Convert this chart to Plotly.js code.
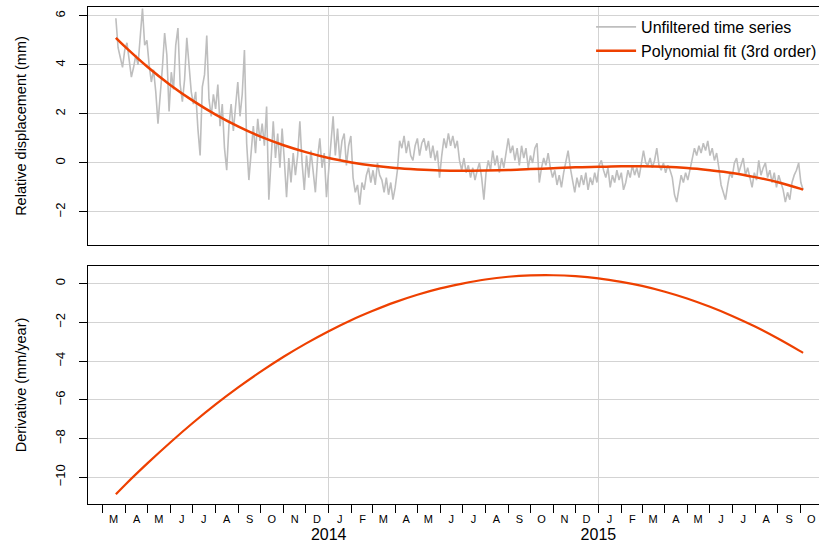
<!DOCTYPE html>
<html>
<head>
<meta charset="utf-8">
<script src="https://cdn.plot.ly/plotly-3.0.1.min.js"></script>
<style>
html, body { margin: 0; padding: 0; overflow: hidden; background: #fff; }
#chart { width: 845px; height: 545px; }
</style>
</head>
<body>
<div id="chart"></div>
<script>
// ---------- DATA ----------
// Unfiltered series: one reading every 3 days starting at startDate
const rawStartDate = '2013-03-19';
const rawStepDays = 3;
const rawValues = [
  5.9, 4.7, 4.3, 3.9, 4.6, 4.9, 4.2, 3.5, 3.9, 4.4,
  4.0, 5.2, 6.3, 4.8, 5.0, 4.0, 3.3, 3.8, 2.9, 1.6,
  2.6, 3.9, 5.3, 4.4, 2.1, 3.7, 3.0, 4.8, 5.5, 3.2,
  2.5, 3.4, 5.1, 3.8, 2.9, 2.4, 2.9, 1.4, 0.3, 3.1,
  3.6, 5.2, 2.6, 1.9, 2.8, 2.2, 3.2, 1.5, 2.4, 0.6,
  -0.3, 1.5, 2.4, 1.3, 2.2, 3.3, 1.9, 2.8, 4.6, 0.8,
  -0.7, 0.6, 1.5, 0.4, 1.8, 0.9, 1.6, 0.7, 2.3, -1.5,
  0.4, 1.7, 0.2, 1.2, -0.2, 1.4, 0.1, -1.4, 0.2, -0.8,
  0.4, -0.5, 0.3, 1.7, 0.0, -1.1, 0.3, -0.6, 0.5, -0.4,
  -1.2, 0.2, 1.0, -0.2, 0.4, -1.4, -0.3, 0.8, 1.9, 0.3,
  1.4, 0.1, 0.9, 1.2, -0.1, 0.7, 1.1, -0.6, -1.2, -0.9,
  -1.7, -0.8, -1.1, -0.5, -0.2, -0.8, -0.3, -0.9, 0.0, -0.5,
  -0.7, -1.2, -0.6, -1.3, -0.8, -1.5, -1.0, -0.3, 0.9, 0.6,
  1.1, 0.4, 0.9, 0.3, 0.1, 0.7, 1.0, 0.3, 0.8, 1.0,
  0.5, 0.9, 0.2, 0.7, 0.1, 0.5, -0.6, 0.3, 1.0, 0.6,
  1.2, 0.7, 1.1, 0.6, 0.9, 0.1, -0.3, 0.2, -0.4, -0.1,
  -0.6, -0.2, -0.7, -0.3, 0.0, -0.6, -1.5, -0.4, 0.1, -0.3,
  0.5, -0.1, 0.3, -0.4, 0.2, -0.2, 0.5, 1.0, 0.4, 0.7,
  0.1, 0.6, -0.1, 0.7, 0.2, 0.6, -0.2, 0.3, 0.0, 0.6,
  0.8, -0.8, -0.2, 0.2, -0.1, 0.4, -0.2, -0.6, -0.3, -0.9,
  -0.5, -1.0, -0.4, 0.0, 0.5, -0.2, -0.7, -1.2, -0.6, -1.0,
  -0.5, -0.9, -0.4, -1.1, -0.6, -0.9, -0.4, -0.8, -0.1, 0.1,
  -0.3, -0.6, -0.2, -1.0, -0.5, -0.8, -0.3, -0.7, -0.4, -1.1,
  -0.8, -0.3, -0.6, -0.1, -0.5, -0.2, -0.6, -0.1, 0.5, 0.0,
  -0.1, 0.2, -0.2, 0.1, 0.6, -0.1, -0.3, 0.0, -0.4, -0.1,
  -0.3, -0.6, -1.3, -1.6, -1.0, -0.5, -0.8, -0.4, -0.7, -0.3,
  0.2, 0.6, 0.3, 0.7, 0.4, 0.8, 0.5, 0.9, 0.3, 0.6,
  0.1, 0.4, -0.2, -0.9, -1.2, -1.5, -0.9, -0.4, -0.6, 0.0,
  0.2, -0.4, -0.1, 0.2, -0.5, -0.2, -0.6, -1.0, -0.4, -0.7,
  0.1, -0.5, -0.2, 0.0, -0.6, -0.3, -0.8, -0.4, -1.0, -0.5,
  -0.8, -1.1, -1.6, -1.2, -1.5, -0.8, -0.5, -0.3, 0.0, -0.8, -1.1
];

// Polynomial fit and its derivative, read at these dates
const fitDates = [
  '2013-03-19','2013-04-01','2013-05-01','2013-06-01','2013-07-01','2013-08-01',
  '2013-09-01','2013-10-01','2013-11-01','2013-12-01','2014-01-01','2014-02-01',
  '2014-03-01','2014-04-01','2014-05-01','2014-06-01','2014-07-01','2014-08-01',
  '2014-09-01','2014-10-01','2014-11-01','2014-12-01','2015-01-01','2015-02-01',
  '2015-03-01','2015-04-01','2015-05-01','2015-06-01','2015-07-01','2015-08-01',
  '2015-09-01','2015-10-01','2015-10-05'
];
const fitValues = [
  5.10, 4.72, 3.91, 3.17, 2.54, 1.97, 1.48, 1.07, 0.72, 0.44, 0.20, 0.02,
  -0.11, -0.21, -0.27, -0.31, -0.32, -0.31, -0.29, -0.25, -0.22, -0.18, -0.16, -0.14,
  -0.14, -0.16, -0.21, -0.30, -0.41, -0.58, -0.79, -1.05, -1.09
];
const derivValues = [
  -10.88, -10.37, -9.27, -8.19, -7.20, -6.24, -5.35, -4.55, -3.78, -3.10, -2.46, -1.88,
  -1.42, -0.96, -0.58, -0.25, 0.00, 0.21, 0.35, 0.42, 0.43, 0.38, 0.27, 0.09,
  -0.12, -0.42, -0.77, -1.20, -1.67, -2.22, -2.84, -3.49, -3.58
];

// Axis labels
const monthStartTick0 = '2013-03-01';
const monthMidDates = [
  '2013-03-16','2013-04-16','2013-05-16','2013-06-16','2013-07-16','2013-08-16',
  '2013-09-16','2013-10-16','2013-11-16','2013-12-16','2014-01-16','2014-02-16',
  '2014-03-16','2014-04-16','2014-05-16','2014-06-16','2014-07-16','2014-08-16',
  '2014-09-16','2014-10-16','2014-11-16','2014-12-16','2015-01-16','2015-02-16',
  '2015-03-16','2015-04-16','2015-05-16','2015-06-16','2015-07-16','2015-08-16',
  '2015-09-16','2015-10-16'
];
const monthLetters = ['M','A','M','J','J','A','S','O','N','D','J','F','M','A','M','J',
  'J','A','S','O','N','D','J','F','M','A','M','J','J','A','S','O'];
const yearDates = ['2014-01-01','2015-01-01'];
const yearLabels = ['2014','2015'];
const topTicks = [-2, 0, 2, 4, 6];
const bottomTicks = [-10, -8, -6, -4, -2, 0];

// ---------- BUILD ----------
function addDays(iso, n) {
  const d = new Date(iso + 'T00:00:00Z');
  d.setUTCDate(d.getUTCDate() + n);
  return d.toISOString().slice(0, 10);
}
const rawDates = rawValues.map((_, i) => addDays(rawStartDate, i * rawStepDays));

const FONT = 'Liberation Sans, Arial, Helvetica, sans-serif';
const GRID = '#d3d3d3';
const RED = '#ee4000';
const xRange = ['2013-02-09 07:00', '2015-11-10 10:00'];

const traces = [
  { x: rawDates, y: rawValues, type: 'scatter', mode: 'lines', name: 'Unfiltered time series',
    line: { color: '#bebebe', width: 1.6 }, xaxis: 'x', yaxis: 'y', hoverinfo: 'skip' },
  { x: fitDates, y: fitValues, type: 'scatter', mode: 'lines', name: 'Polynomial fit (3rd order)',
    line: { color: RED, width: 2.5, shape: 'spline' }, xaxis: 'x', yaxis: 'y' },
  { x: fitDates, y: derivValues, type: 'scatter', mode: 'lines', name: 'Derivative',
    line: { color: RED, width: 2.2, shape: 'spline' }, xaxis: 'x2', yaxis: 'y2', showlegend: false },
  { x: [], y: [], type: 'scatter', mode: 'lines', xaxis: 'x3', yaxis: 'y2', showlegend: false, hoverinfo: 'skip' },
  { x: [], y: [], type: 'scatter', mode: 'lines', xaxis: 'x4', yaxis: 'y2', showlegend: false, hoverinfo: 'skip' }
];

const yCommon = {
  showline: true, mirror: true, linecolor: '#000', linewidth: 1.3,
  ticks: 'outside', ticklen: 8, tickwidth: 1, tickcolor: '#000',
  tickangle: -90, tickfont: { family: FONT, size: 13, color: '#000' },
  tickmode: 'array', showgrid: true, gridcolor: GRID, gridwidth: 1,
  zeroline: false, ticklabelstandoff: 9
};

const layout = {
  width: 845, height: 545,
  margin: { l: 88, r: 15, t: 7, b: 41 },
  paper_bgcolor: '#fff', plot_bgcolor: '#fff',
  font: { family: FONT, color: '#000' },
  showlegend: true,
  legend: {
    x: 0.678, y: 0.994, xanchor: 'left', yanchor: 'top',
    bgcolor: 'rgba(0,0,0,0)', borderwidth: 0,
    font: { family: FONT, size: 16, color: '#000' },
    tracegroupgap: 0, itemwidth: 40
  },
  xaxis: {
    type: 'date', range: xRange, anchor: 'y', domain: [0, 1],
    showline: true, mirror: true, linecolor: '#000', linewidth: 1.3,
    tickmode: 'array', tickvals: yearDates, ticktext: ['', ''], ticks: '',
    showticklabels: false, showgrid: true, gridcolor: GRID, zeroline: false
  },
  yaxis: Object.assign({}, yCommon, {
    domain: [0.5211, 1], range: [-3.35, 6.36], anchor: 'x', tickvals: topTicks,
    title: { text: 'Relative displacement (mm)', font: { family: FONT, size: 14.5 }, standoff: 22 }
  }),
  xaxis2: {
    type: 'date', range: xRange, anchor: 'y2', domain: [0, 1],
    showline: true, mirror: true, linecolor: '#000', linewidth: 1.3,
    tickmode: 'linear', tick0: monthStartTick0, dtick: 'M1',
    ticks: 'outside', ticklen: 8, tickwidth: 1, tickcolor: '#000',
    showticklabels: false, showgrid: false, zeroline: false
  },
  xaxis3: {
    type: 'date', range: xRange, anchor: 'y2', overlaying: 'x2', side: 'bottom',
    tickmode: 'array', tickvals: monthMidDates, ticktext: monthLetters,
    ticks: 'outside', ticklen: 5, tickcolor: 'rgba(0,0,0,0)',
    tickfont: { family: FONT, size: 11, color: '#000' },
    showgrid: false, showline: false, zeroline: false
  },
  xaxis4: {
    type: 'date', range: xRange, anchor: 'y2', overlaying: 'x2', side: 'bottom',
    tickmode: 'array', tickvals: yearDates, ticktext: yearLabels,
    ticks: 'outside', ticklen: 16, tickcolor: 'rgba(0,0,0,0)',
    tickfont: { family: FONT, size: 16, color: '#000' },
    showgrid: true, gridcolor: GRID, showline: false, zeroline: false
  },
  yaxis2: Object.assign({}, yCommon, {
    domain: [0, 0.4789], range: [-11.38, 0.907], anchor: 'x2', tickvals: bottomTicks,
    title: { text: 'Derivative (mm/year)', font: { family: FONT, size: 14.5 }, standoff: 22 }
  })
};

Plotly.newPlot('chart', traces, layout, { displayModeBar: false, responsive: false, staticPlot: true });
</script>
</body>
</html>
